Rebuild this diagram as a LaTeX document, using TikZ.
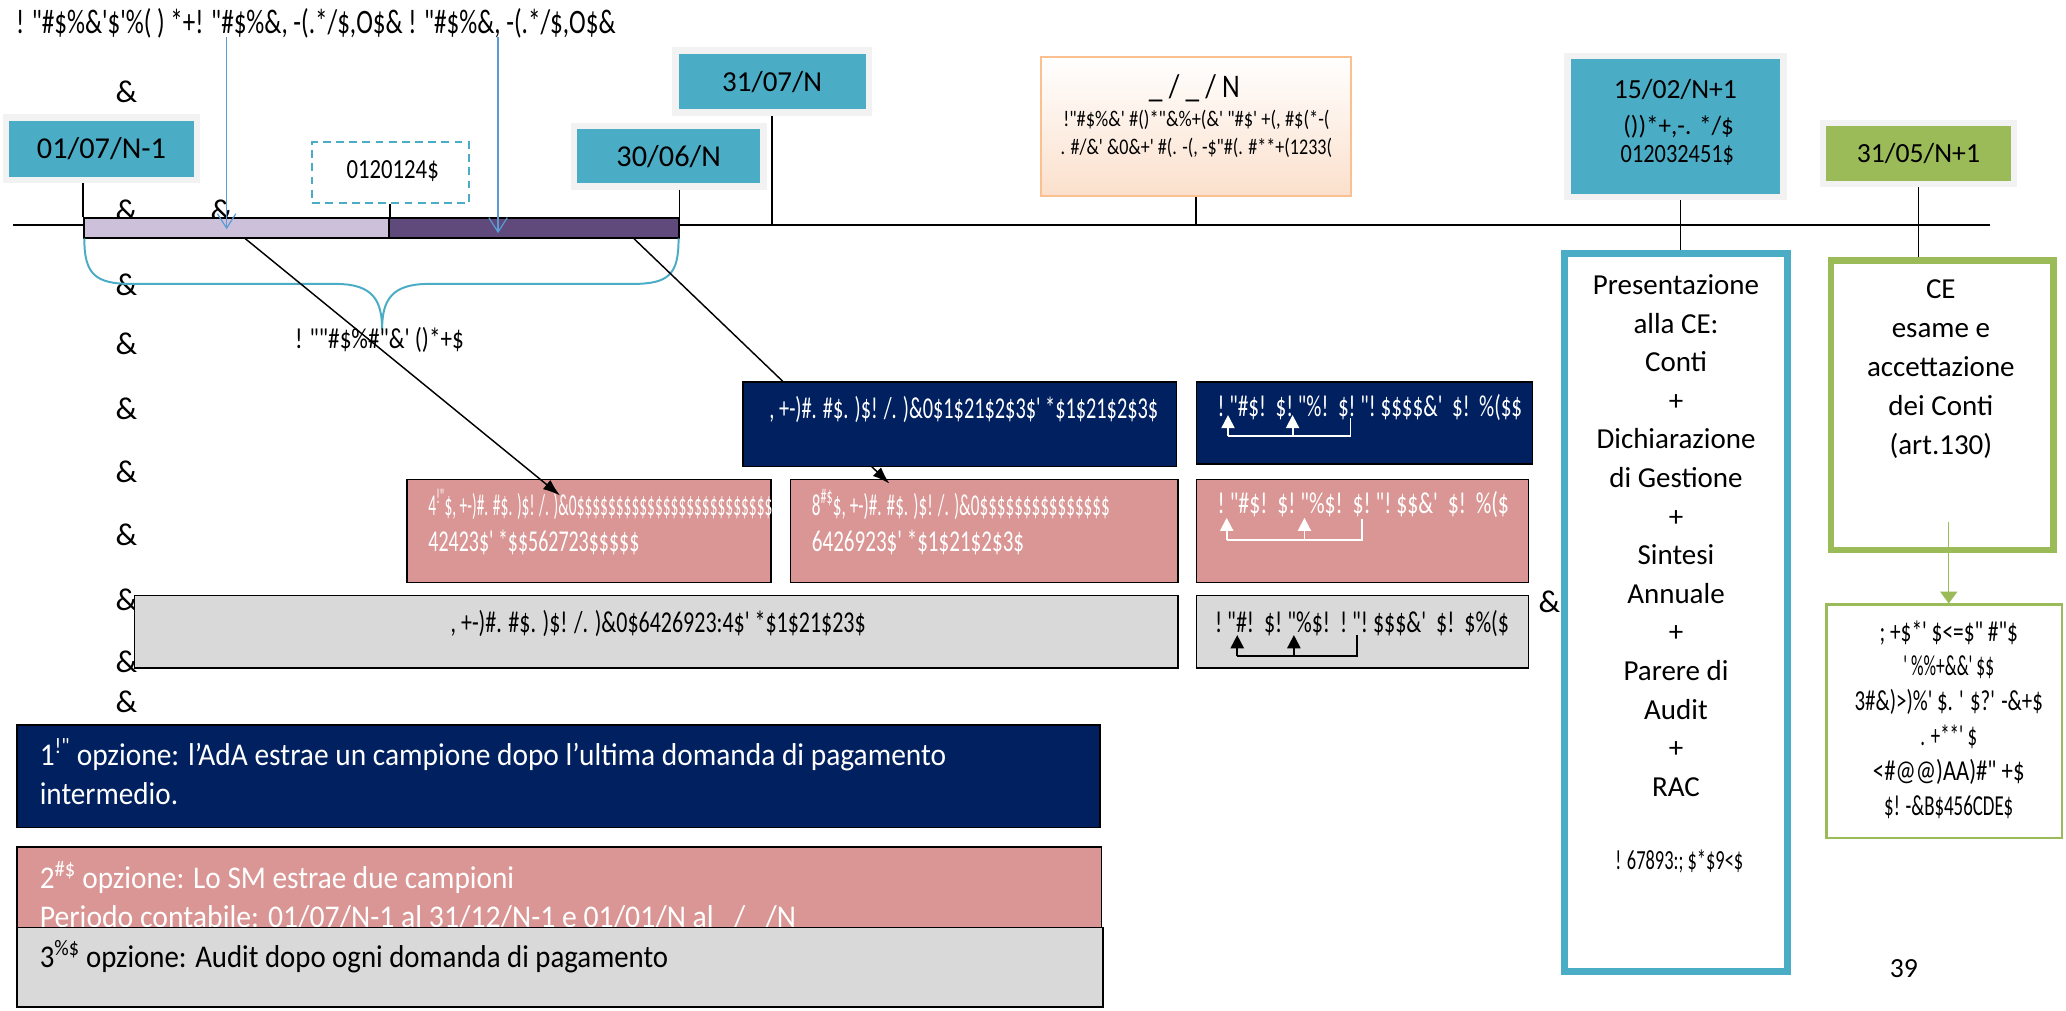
\documentclass[tikz,border=0pt]{standalone}
\usepackage{fontspec}
\usepackage{graphicx}
\setmainfont{Carlito}
\newfontfamily\garb[Ligatures=TeXOff]{Carlito}
\usetikzlibrary{arrows.meta,calc}
\definecolor{cteal}{RGB}{75,172,198}
\definecolor{cframe}{RGB}{242,242,242}
\definecolor{cgreen}{RGB}{155,187,89}
\definecolor{cnavy}{RGB}{0,32,96}
\definecolor{cpink}{RGB}{217,150,148}
\definecolor{cgray}{RGB}{217,217,217}
\definecolor{clav}{RGB}{204,192,218}
\definecolor{cpurp}{RGB}{96,74,123}
\definecolor{corange}{RGB}{250,192,143}
\definecolor{corfill}{RGB}{251,224,204}
\definecolor{cblue}{RGB}{91,155,213}
\newcommand\fitw[2]{\resizebox{#1pt}{\height}{#2}}
\tikzset{
  amp/.style={font=\garb\fontsize{24}{24}\selectfont, inner sep=0},
  datebox/.style={fill=cteal, draw=cframe, line width=5pt, inner sep=0, font=\fontsize{23}{27}\selectfont},
  bx/.style={draw=black, line width=1.3pt, inner sep=0},
  gt/.style={font=\garb\fontsize{23}{26}\selectfont, inner sep=0},
  wt/.style={gt, text=white},
  tk/.style={line width=1.3pt, draw=black},
  barrow/.style={draw=cblue, line width=0.9pt, -{Straight Barb[length=11pt,width=14pt]}},
  darrow/.style={draw=black, line width=1.1pt, -{Latex[length=13pt,width=9pt]}},
  uparw/.style={line width=1.4pt, -{Triangle[length=10pt,width=10pt]}},
  bottxt/.style={font=\fontsize{24}{28}\selectfont, inner sep=0, anchor=west}
}
\begin{document}
\begin{tikzpicture}[x=1pt,y=-1pt]
\useasboundingbox[fill=white] (0,0) rectangle (1568,767);

% ampersands
\foreach \i/\px/\py in {1/96/70,2/96/160,3/168/160,4/96/216,5/96/261,6/96/310,7/96/358,8/96/406,9/96/455,10/96/502,11/96/533,12/1176/457}
  \node[amp] (amp\i) at (\px,\py) {\&};

% title
\node[gt, font=\garb\fontsize{26}{28}\selectfont, anchor=west] (title) at (12,18)
  {\fitw{455}{! "\#\$\%\&'\$'\%( ) *+! "\#\$\%\&, -(.*/\$,O\$\& ! "\#\$\%\&, -(.*/\$,O\$\&}};

% timeline
\coordinate (tlA) at (10,170.5);
\coordinate (tlB) at (1510,170.5);
\draw[line width=1.6pt] (tlA) -- (tlB);

% date boxes
\node[datebox, minimum width=145, minimum height=47.5] (d1) at (77,112.75) {01/07/N-1};
\node[datebox, minimum width=144, minimum height=46] (d2) at (507.5,118.5) {30/06/N};
\node[datebox, minimum width=147, minimum height=47, font=\fontsize{22}{26}\selectfont] (d3) at (586,62) {31/07/N};
\node[datebox, minimum width=164, minimum height=107] (d4) at (1271.5,96) {};
\node[datebox, fill=cgreen, minimum width=145, minimum height=46, font=\fontsize{21}{25}\selectfont] (d5) at (1456,116.5) {31/05/N+1};
\node[font=\fontsize{21}{25}\selectfont, inner sep=0] (d4a) at (1271.5,68) {15/02/N+1};
\node[gt, font=\garb\fontsize{20}{24}\selectfont] (d4b) at (1274,96) {\fitw{84}{())*+,-. */\$}};
\node[gt, font=\garb\fontsize{20}{24}\selectfont] (d4c) at (1273,118) {\fitw{86}{012032451\$}};

% orange box
\node[draw=corange, line width=1.5pt, top color=white, bottom color=corfill, minimum width=235, minimum height=106, inner sep=0] (orb) at (907.5,96) {};
\node[gt, font=\garb\fontsize{25}{27}\selectfont] (orb1) at (906.5,67) {\fitw{69}{\_ / \_ / N}};
\node[gt, font=\garb\fontsize{17}{19}\selectfont] (orb2) at (908,91) {\fitw{202}{!"\#\$\%\&' \#()*"\&\%+(\&' "\#\$' +(, \#\$(*-(}};
\node[gt, font=\garb\fontsize{17}{19}\selectfont] (orb3) at (908,112) {\fitw{206}{. \#/\&' \&0\&+' \#(. -(, -\$"\#(. \#**+(1233(}};

% dashed box
\node[draw=cteal, dashed, dash pattern=on 6pt off 4pt, line width=1.3pt, minimum width=119, minimum height=46, inner sep=0] (ds) at (296.5,131) {};
\node[gt, font=\garb\fontsize{21}{24}\selectfont] (dst) at (298,130) {\fitw{70}{0120124\$}};

% bar
\node[bx, fill=clav, line width=1.6pt, minimum width=231, minimum height=15] (barL) at (179.5,173) {};
\node[bx, fill=cpurp, line width=1.6pt, minimum width=220, minimum height=15] (barR) at (405,173) {};

% tall boxes
\node[draw=cteal, line width=5pt, fill=white, minimum width=169, minimum height=545, inner sep=0] (bt) at (1272,465) {};
\node[draw=cgreen, line width=5pt, fill=white, minimum width=169, minimum height=220, inner sep=0] (gtall) at (1474,307.5) {};
\node[draw=cgreen, line width=2pt, fill=white, minimum width=179, minimum height=177, inner sep=0] (gsm) at (1475.5,547.5) {};

% ticks
\draw[tk] (d1.south -| barL.west) -- (barL.north west);
\draw[tk] (d2.south -| barR.east) -- (barR.north east);
\draw[tk] (d3.south) -- (d3.south |- tlA);
\draw[tk] (orb.south) -- (orb.south |- tlA);
\draw[tk] ([xshift=4pt]d4.south) -- ([xshift=4pt]d4.south |- bt.north);
\draw[tk] (d5.south) -- (d5.south |- gtall.north);
\draw[tk] (ds.south -| barL.east) -- (barL.north east);

% blue arrows from title
\coordinate (ba1) at (172,28);
\coordinate (ba1e) at (172,174);
\coordinate (ba2) at (378,28);
\coordinate (ba2e) at (378,177);
\draw[barrow] (ba1) -- (ba1e);
\draw[barrow] (ba2) -- (ba2e);

% brace
\draw[cteal, line width=1.5pt] (64,181) .. controls (64,208) and (72,215.5) .. (100,215.5) -- (255,215.5)
  .. controls (283,215.5) and (290,228) .. (290,250)
  .. controls (290,228) and (297,215.5) .. (325,215.5) -- (480,215.5)
  .. controls (508,215.5) and (515,208) .. (515,181);
\node[gt, font=\garb\fontsize{22}{24}\selectfont] (brl) at (288,258) {\fitw{128}{! ""\#\$\%\#"\&' ()*+\$}};

% pink boxes row
\node[bx, fill=cpink, minimum width=276, minimum height=78] (p1) at (447,403) {};
\node[bx, fill=cpink, minimum width=294, minimum height=78] (p2) at (747,403) {};
\node[bx, fill=cpink, minimum width=252, minimum height=78] (p3) at (1034,403) {};
\node[wt, anchor=west] (p1a) at (325,383) {\fitw{261}{4\textsuperscript{!"}\$, +-)\#. \#\$. )\$! /. )\&0\$\$\$\$\$\$\$\$\$\$\$\$\$\$\$\$\$\$\$\$\$\$\$\$\$}};
\node[wt, anchor=west] (p1b) at (325,412) {\fitw{160}{42423\$' *\$\$562723\$\$\$\$\$}};
\node[wt, anchor=west] (p2a) at (616,383) {\fitw{226}{8\textsuperscript{\#\$}\$, +-)\#. \#\$. )\$! /. )\&0\$\$\$\$\$\$\$\$\$\$\$\$\$\$\$}};
\node[wt, anchor=west] (p2b) at (616,412) {\fitw{161}{6426923\$' *\$1\$21\$2\$3\$}};
\node[wt, anchor=west] (p3a) at (924,383) {\fitw{221}{!~"\#\$!~~\$!~"\%\$!~~\$!~"!~\$\$\&'~~\$!~~\%(\$}};
\draw[white, line width=1.4pt] (931,410) -- (1034,410) -- (1034,394);
\draw[white, uparw] (931,410) -- (931,393);
\draw[white, uparw] (990,410) -- (990,393);

% diagonal arrows
\coordinate (a1s) at (186,181);
\coordinate (a1e) at (425,376);
\coordinate (a2s) at (481,181);
\coordinate (a2e) at (675,367);
\draw[darrow] (a1s) -- (a1e);
\draw[darrow] (a2s) -- (a2e);

% navy boxes
\node[bx, fill=cnavy, minimum width=329, minimum height=64] (n1) at (728.5,322) {};
\node[wt] (n1t) at (731.5,311) {\fitw{295}{, +-)\#. \#\$. )\$! /. )\&0\$1\$21\$2\$3\$' *\$1\$21\$2\$3\$}};
\node[bx, fill=cnavy, minimum width=255, minimum height=62] (n2) at (1035.5,321) {};
\node[wt, anchor=west] (n2t) at (924,309) {\fitw{231}{!~"\#\$!~~\$!~"\%!~~\$!~"!~\$\$\$\$\&'~~\$!~~\%(\$\$}};
\draw[white, line width=1.4pt] (932,331) -- (1025,331) -- (1025,317);
\draw[white, uparw] (932,331) -- (932,315);
\draw[white, uparw] (981,331) -- (981,315);

% gray boxes row
\node[bx, fill=cgray, minimum width=792, minimum height=55] (g1) at (498,479.5) {};
\node[gt] (g1t) at (499.5,473) {\fitw{315}{, +-)\#. \#\$. )\$! /. )\&0\$6426923:4\$' *\$1\$21\$23\$}};
\node[bx, fill=cgray, minimum width=252, minimum height=55] (g2) at (1034,479.5) {};
\node[gt, anchor=west] (g2t) at (922,473) {\fitw{223}{!~"\#!~~\$!~"\%\$!~~!~"!~\$\$\$\&'~~\$!~~\$\%(\$}};
\draw[black, line width=1.4pt] (939,498) -- (1030,498) -- (1030,482);
\draw[black, uparw] (939,498) -- (939,482);
\draw[black, uparw] (982,498) -- (982,482);

% tall box texts
\node[align=center, font=\fontsize{22}{29.3}\selectfont, inner sep=0] (btt) at (1272,406.5)
  {Presentazione\\alla CE:\\Conti\\+\\Dichiarazione\\di Gestione\\+\\Sintesi\\Annuale\\+\\Parere di\\Audit\\+\\RAC};
\node[gt, font=\garb\fontsize{21}{24}\selectfont] (btg) at (1274.5,654) {\fitw{97}{! 67893:; \$*\$9<\$}};
\node[align=center, font=\fontsize{22}{29.5}\selectfont, inner sep=0] (gtt) at (1473,280)
  {CE\\esame e\\accettazione\\dei Conti\\(art.130)};
\node[align=center, gt, font=\garb\fontsize{22}{26.4}\selectfont] (gst) at (1479,546)
  {\fitw{105}{; +\$*' \$<=\$" \#"\$}\\
   \fitw{69}{' \%\%+\&\&' \$\$}\\
   \fitw{143}{3\#\&)>)\%' \$. ' \$?' -\&+\$}\\
   \fitw{43}{. +**' \$}\\
   \fitw{115}{<\#@@)AA)\#" +\$}\\
   \fitw{98}{\$! -\&B\$456CDE\$}};
\coordinate (garr) at (1479,396);
\draw[cgreen, line width=1pt, -{Triangle[length=9pt,width=13pt]}] (garr) -- (garr |- gsm.north);

% bottom option boxes
\node[bx, fill=cnavy, minimum width=822, minimum height=78] (o1) at (424,589) {};
\node[bottxt, text=white] (o1a) at (30,573) {\fitw{688}{1\textsuperscript{\garb!"} opzione: l’AdA estrae un campione dopo l’ultima domanda di pagamento}};
\node[bottxt, text=white] (o1b) at (30,602) {\fitw{105}{intermedio.}};
\node[bx, fill=cpink, minimum width=823, minimum height=61] (o2) at (424.5,673.5) {};
\node[bottxt, text=white] (o2a) at (30,666) {\fitw{360}{2\textsuperscript{\garb\#\$} opzione: Lo SM estrae due campioni}};
\node[bottxt, text=white] (o2b) at (30,696) {\fitw{574}{Periodo contabile: 01/07/N-1 al 31/12/N-1 e 01/01/N al~~~/~~~/N}};
\node[bx, fill=cgray, minimum width=824, minimum height=60] (o3) at (425,734) {};
\node[bottxt] (o3a) at (30,726) {\fitw{477}{3\textsuperscript{\garb\%\$} opzione: Audit dopo ogni domanda di pagamento}};

% page number
\node[font=\fontsize{21}{25}\selectfont, inner sep=0] (pg) at (1445,735) {39};
\end{tikzpicture}
\end{document}
